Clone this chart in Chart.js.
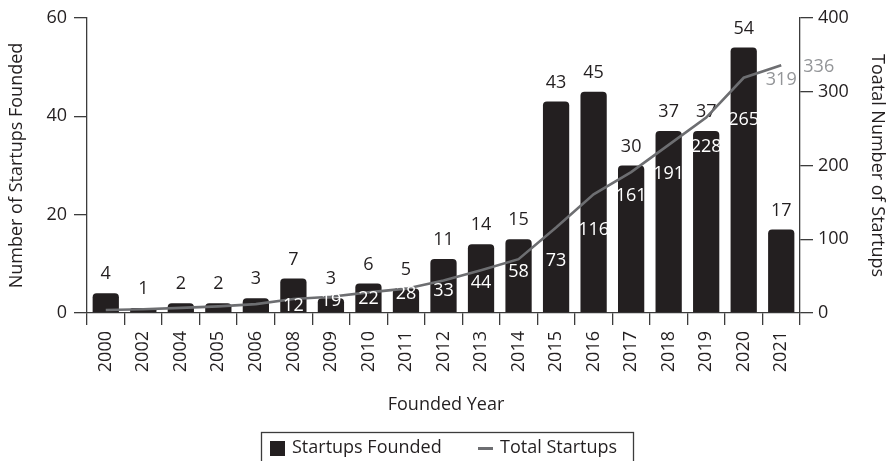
<!DOCTYPE html>
<html>
<head>
<meta charset="utf-8">
<script src="https://cdn.jsdelivr.net/npm/chart.js"></script>
<style>
  html, body { margin: 0; padding: 0; background: #fff; }
  #wrap { width: 888px; height: 461px; }
</style>
</head>
<body>
<div id="wrap"><canvas id="chart" width="888" height="461"></canvas></div>
<script>
// chart data
var years = ['2000', '2002', '2004', '2005', '2006', '2008', '2009', '2010', '2011', '2012',
             '2013', '2014', '2015', '2016', '2017', '2018', '2019', '2020', '2021'];
var founded = [4, 1, 2, 2, 3, 7, 3, 6, 5, 11, 14, 15, 43, 45, 30, 37, 37, 54, 17];
var totals = [4, 5, 7, 9, 12, 19, 22, 28, 33, 44, 58, 73, 116, 161, 191, 228, 265, 319, 336];
var leftTicks = [0, 20, 40, 60];
var rightTicks = [0, 100, 200, 300, 400];

var FONT = "'Open Sans', 'DejaVu Sans', sans-serif";
var INK = '#231f20';
var AXIS = '#3c3c3c';
var LINE = '#6d6e71';
var LABEL_GRAY = '#939598';

// draws the text labels, the x title and the boxed legend
var extrasPlugin = {
    id: 'extras',
    afterDatasetDraw: function (chart, args) {
        if (args.meta.type !== 'bar') return;
        var ctx = chart.ctx;
        ctx.save();
        ctx.font = '18px ' + FONT;
        ctx.fillStyle = INK;
        ctx.textAlign = 'center';
        ctx.textBaseline = 'middle';
        args.meta.data.forEach(function (bar, i) {
            ctx.fillText(String(founded[i]), bar.x, bar.y - 19);
        });
        ctx.restore();
    },
    afterDatasetsDraw: function (chart) {
        var ctx = chart.ctx;
        var x = chart.scales.x;
        var yR = chart.scales.yRight;
        var step = x.getPixelForValue(1) - x.getPixelForValue(0);
        ctx.save();
        ctx.font = '18px ' + FONT;
        ctx.textAlign = 'center';
        ctx.textBaseline = 'middle';
        // running totals, each one printed one column to the right
        for (var i = 5; i <= totals.length; i++) {
            var v = totals[i - 1];
            var px = x.getPixelForValue(0) + step * i;
            var py = Math.min(yR.getPixelForValue(v), yR.bottom - 8);
            ctx.fillStyle = i >= totals.length - 1 ? LABEL_GRAY : '#ffffff';
            ctx.fillText(String(v), px, py + 2);
        }
        ctx.restore();

        // x axis title
        ctx.save();
        ctx.font = '18px ' + FONT;
        ctx.fillStyle = INK;
        ctx.textAlign = 'center';
        ctx.textBaseline = 'middle';
        ctx.fillText('Founded Year', 446, 405);

        // legend
        ctx.strokeStyle = AXIS;
        ctx.lineWidth = 1.3;
        ctx.strokeRect(261.5, 432.5, 372, 40);
        ctx.fillStyle = INK;
        ctx.fillRect(270, 441, 15, 15);
        ctx.textAlign = 'left';
        ctx.fillText('Startups Founded', 292, 448);
        ctx.strokeStyle = LINE;
        ctx.lineWidth = 3;
        ctx.beginPath();
        ctx.moveTo(478, 448.5);
        ctx.lineTo(493, 448.5);
        ctx.stroke();
        ctx.fillStyle = INK;
        ctx.fillText('Total Startups', 500, 448);
        ctx.restore();
    }
};

var ctx = document.getElementById('chart');
new Chart(ctx, {
    type: 'bar',
    data: {
        labels: years,
        datasets: [{
            type: 'line',
            label: 'Total Startups',
            data: totals,
            yAxisID: 'yRight',
            borderColor: LINE,
            borderWidth: 2.6,
            pointRadius: 0,
            tension: 0,
            order: 0
        }, {
            type: 'bar',
            label: 'Startups Founded',
            data: founded,
            yAxisID: 'y',
            backgroundColor: INK,
            borderRadius: { topLeft: 4, topRight: 4 },
            borderSkipped: 'bottom',
            categoryPercentage: 1,
            barPercentage: 0.7,
            order: 1
        }]
    },
    options: {
        responsive: false,
        animation: false,
        layout: { padding: { top: 18, right: 0, left: 0, bottom: 0 } },
        plugins: {
            legend: { display: false },
            tooltip: { enabled: false }
        },
        scales: {
            x: {
                offset: true,
                grid: {
                    display: true,
                    offset: true,
                    drawOnChartArea: false,
                    drawTicks: true,
                    tickLength: 12,
                    color: AXIS,
                    lineWidth: 1.3
                },
                border: { display: true, color: AXIS, width: 1.3 },
                ticks: {
                    minRotation: 90,
                    maxRotation: 90,
                    padding: 6,
                    color: INK,
                    font: { family: FONT, size: 18 }
                },
                afterFit: function (s) { s.height = 148; }
            },
            y: {
                position: 'left',
                min: 0,
                max: 60,
                afterBuildTicks: function (s) { s.ticks = leftTicks.map(function (v) { return { value: v }; }); },
                grid: {
                    drawOnChartArea: false,
                    drawTicks: true,
                    tickLength: 13,
                    color: AXIS,
                    lineWidth: 1.3
                },
                border: { display: true, color: AXIS, width: 1.3 },
                ticks: {
                    padding: 7,
                    color: INK,
                    font: { family: FONT, size: 18 }
                },
                title: {
                    display: true,
                    text: 'Number of Startups Founded',
                    color: INK,
                    font: { family: FONT, size: 18 },
                    padding: { top: 6, bottom: 0 }
                },
                afterFit: function (s) { s.width = 87; }
            },
            yRight: {
                position: 'right',
                min: 0,
                max: 400,
                afterBuildTicks: function (s) { s.ticks = rightTicks.map(function (v) { return { value: v }; }); },
                grid: {
                    drawOnChartArea: false,
                    drawTicks: true,
                    tickLength: 13,
                    color: AXIS,
                    lineWidth: 1.3
                },
                border: { display: true, color: AXIS, width: 1.3 },
                ticks: {
                    padding: 5,
                    color: INK,
                    font: { family: FONT, size: 18 }
                },
                title: {
                    display: true,
                    text: 'Toatal Number of Startups',
                    color: INK,
                    font: { family: FONT, size: 18 },
                    padding: { top: 0, bottom: 0 }
                },
                afterFit: function (s) { s.width = 88; }
            }
        }
    },
    plugins: [extrasPlugin]
});
</script>
</body>
</html>
